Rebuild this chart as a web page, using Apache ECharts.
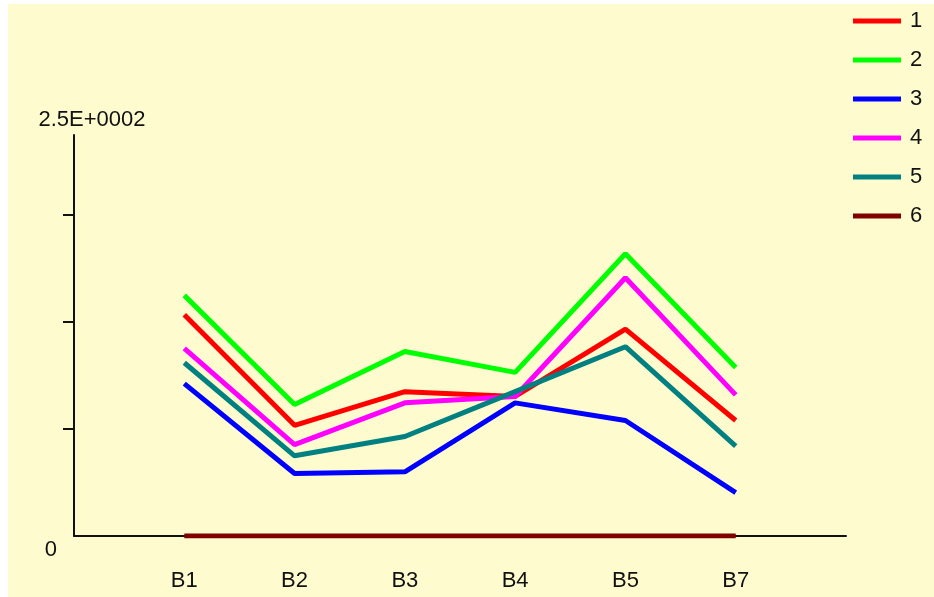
<!DOCTYPE html>
<html>
<head>
<meta charset="utf-8">
<script src="https://cdn.jsdelivr.net/npm/echarts@6/dist/echarts.min.js"></script>
</head>
<body style="margin:0; background:#fff">
<div id="main" style="position:absolute; left:8px; top:4px; width:926px; height:593px; background:#fefccf"></div>
<script type="text/javascript">
    // categories along the bottom (there is no B6 in the source)
    var xLabels = ['B1', 'B2', 'B3', 'B4', 'B5', 'B7'];
    var seriesNames = ['1', '2', '3', '4', '5', '6'];
    var colors = ['#ff0000', '#00ff00', '#0000ff', '#ff00ff', '#008080', '#800000'];

    // values
    var s1 = [138, 69, 90, 87, 129, 72];
    var s2 = [150, 82, 115, 102, 176, 105];
    var s3 = [95, 39, 40, 83, 72, 27];
    var s4 = [117, 57, 83, 87, 161, 88];
    var s5 = [108, 50, 62, 90, 118, 56];
    var s6 = [0, 0, 0, 0, 0, 0];
    var allData = [s1, s2, s3, s4, s5, s6];

    var yMax = 250;
    var yTicks = [66.7, 133.3, 200];
    var yLabels = [0];

    var font = "'Liberation Sans', Arial, sans-serif";
    var myChart = echarts.init(document.getElementById('main'));

    var series = allData.map(function (vals, k) {
        return {
            name: seriesNames[k],
            type: 'line',
            symbol: 'none',
            data: vals.map(function (v, i) { return [i + 1, v]; }),
            lineStyle: {width: 5, color: colors[k]},
            itemStyle: {color: colors[k]},
            animation: false
        };
    });

    var option = {
        backgroundColor: 'transparent',
        legend: {
            orient: 'vertical',
            left: 840,
            top: 1,
            itemWidth: 48,
            itemHeight: 5,
            itemGap: 17,
            icon: 'rect',
            textStyle: {fontFamily: font, fontSize: 22, color: '#111', padding: [0, 0, 0, 4]},
            data: seriesNames
        },
        grid: {left: 66, right: 88, top: 131, bottom: 61},
        xAxis: {
            type: 'value',
            min: 0,
            max: 7,
            interval: 1,
            axisLine: {lineStyle: {color: '#111', width: 2}},
            axisTick: {show: false},
            splitLine: {show: false},
            axisLabel: {
                margin: 34,
                fontFamily: font,
                fontSize: 22,
                color: '#111',
                formatter: function (v) { return xLabels[v - 1] || ''; }
            }
        },
        yAxis: {
            type: 'value',
            min: 0,
            max: yMax,
            name: '2.5E+0002',
            nameGap: 4,
            nameTextStyle: {fontFamily: font, fontSize: 22, color: '#111', padding: [0, 0, 0, 36]},
            axisLine: {show: true, lineStyle: {color: '#111', width: 2}},
            axisTick: {show: true, length: 11, lineStyle: {color: '#111', width: 2}, customValues: yTicks},
            splitLine: {show: false},
            axisLabel: {
                customValues: yLabels,
                margin: 17,
                verticalAlign: 'top',
                padding: [3, 0, 0, 0],
                fontFamily: font,
                fontSize: 22,
                color: '#111'
            }
        },
        series: series
    };

    myChart.setOption(option);
</script>
</body>
</html>
